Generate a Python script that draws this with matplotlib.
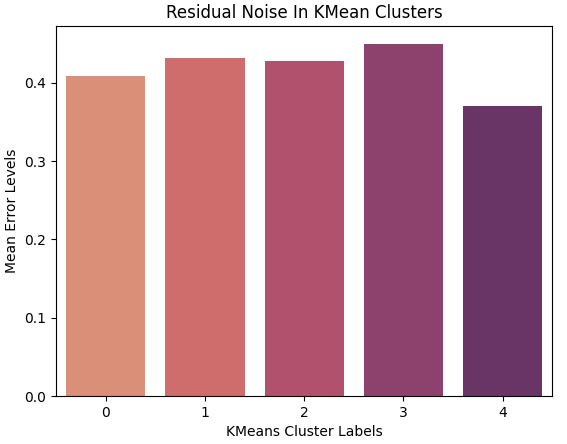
import matplotlib
matplotlib.use("Agg")
import matplotlib.pyplot as plt
import seaborn as sns
import pandas as pd

clusters = ["0", "1", "2", "3", "4"]
mean_errors = [0.409, 0.432, 0.428, 0.450, 0.370]

df = pd.DataFrame({"cluster": clusters, "error": mean_errors})
colors = sns.color_palette("flare", len(clusters))

fig, ax = plt.subplots(figsize=(5.67, 4.44), dpi=100)
fig.subplots_adjust(left=0.099, right=0.974, bottom=0.108, top=0.941)

sns.barplot(data=df, x="cluster", y="error", hue="cluster", palette=colors,
            saturation=0.75, legend=False, ax=ax)

ax.set_title("Residual Noise In KMean Clusters")
ax.set_xlabel("KMeans Cluster Labels")
ax.set_ylabel("Mean Error Levels")

fig.savefig("out.png", dpi=100)
